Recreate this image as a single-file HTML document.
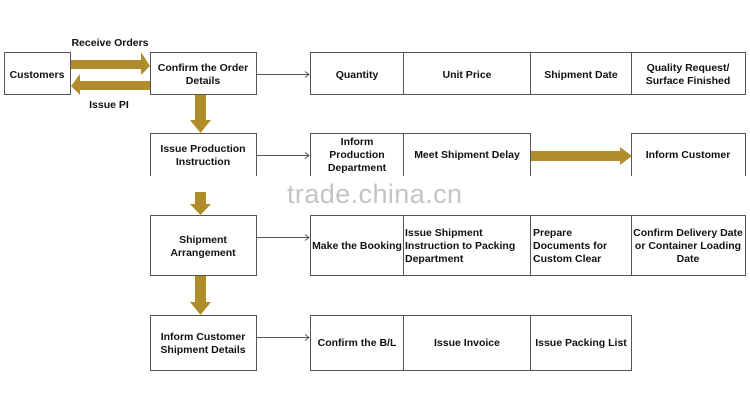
<!DOCTYPE html>
<html><head><style>body{margin:0;background:#fff}svg{display:block}text{font-family:"Liberation Sans",Arial,sans-serif;font-weight:bold;font-size:10.5px;fill:#111}</style></head><body>
<svg width="750" height="400" viewBox="0 0 750 400">
<g fill="#fff" stroke="#555" stroke-width="1">
<rect x="4.5" y="52.5" width="66" height="42"/>
<rect x="150.5" y="52.5" width="106" height="42"/>
<rect x="310.5" y="52.5" width="93" height="42"/><rect x="403.5" y="52.5" width="127" height="42"/><rect x="530.5" y="52.5" width="101" height="42"/><rect x="631.5" y="52.5" width="114" height="42"/>
<path d="M150.5 176V133.5H256.5V176"/>
<path d="M310.5 176V133.5H530.5V176M403.5 133.5V176"/>
<path d="M631.5 176V133.5H745.5V176"/>
<rect x="150.5" y="215.5" width="106" height="60"/>
<rect x="310.5" y="215.5" width="93" height="60"/><rect x="403.5" y="215.5" width="127" height="60"/><rect x="530.5" y="215.5" width="101" height="60"/><rect x="631.5" y="215.5" width="114" height="60"/>
<rect x="150.5" y="315.5" width="106" height="55"/>
<rect x="310.5" y="315.5" width="93" height="55"/><rect x="403.5" y="315.5" width="127" height="55"/><rect x="530.5" y="315.5" width="101" height="55"/>
</g>
<g stroke="#555" fill="none">
<path d="M257 74.5H309M305 71.5L309 74.5L305 77.5"/>
<path d="M257 155.5H309M305 152.5L309 155.5L305 158.5"/>
<path d="M257 237.5H309M305 234.5L309 237.5L305 240.5"/>
<path d="M257 337.5H309M305 334.5L309 337.5L305 340.5"/>
</g>
<g fill="#b08d2a">
<polygon points="71,60 141,60 141,52 150,66 141,75 141,69 71,69"/>
<polygon points="150,81 80,81 80,74 71,86 80,95 80,90 150,90"/>
<polygon points="195,95 206,95 206,120 211,120 200.5,133 190,120 195,120"/>
<polygon points="195,192 206,192 206,204 211,204 200.5,215 190,204 195,204"/>
<polygon points="195,276 206,276 206,302 211,302 200.5,315 190,302 195,302"/>
<polygon points="531,151 620,151 620,147 632,156 620,165 620,161 531,161"/>
</g>
<text x="110" y="46" text-anchor="middle">Receive Orders</text>
<text x="109" y="108" text-anchor="middle">Issue PI</text>
<g text-anchor="middle">
<text x="37" y="78">Customers</text>
<text x="203" y="71">Confirm the Order</text><text x="203" y="84">Details</text>
<text x="357" y="78">Quantity</text><text x="467" y="78">Unit Price</text><text x="581" y="78">Shipment Date</text>
<text x="688" y="71">Quality Request/</text><text x="688" y="84">Surface Finished</text>
<text x="203" y="152">Issue Production</text><text x="203" y="165">Instruction</text>
<text x="357" y="145">Inform</text><text x="357" y="158">Production</text><text x="357" y="171">Department</text>
<text x="467" y="158">Meet Shipment Delay</text>
<text x="688" y="158">Inform Customer</text>
<text x="203" y="243">Shipment</text><text x="203" y="256">Arrangement</text>
<text x="357" y="249">Make the Booking</text>
<text x="688" y="236">Confirm Delivery Date</text><text x="688" y="249">or Container Loading</text><text x="688" y="262">Date</text>
<text x="203" y="340">Inform Customer</text><text x="203" y="353">Shipment Details</text>
<text x="357" y="346">Confirm the B/L</text><text x="467" y="346">Issue Invoice</text><text x="581" y="346">Issue Packing List</text>
</g>
<text x="405" y="236">Issue Shipment</text><text x="405" y="249">Instruction to Packing</text><text x="405" y="262">Department</text>
<text x="533" y="236">Prepare</text><text x="533" y="249">Documents for</text><text x="533" y="262">Custom Clear</text>
<text x="287" y="203" textLength="175" style="font-weight:normal;font-size:27px;fill:#c4c4c4">trade.china.cn</text>
</svg>
</body></html>
